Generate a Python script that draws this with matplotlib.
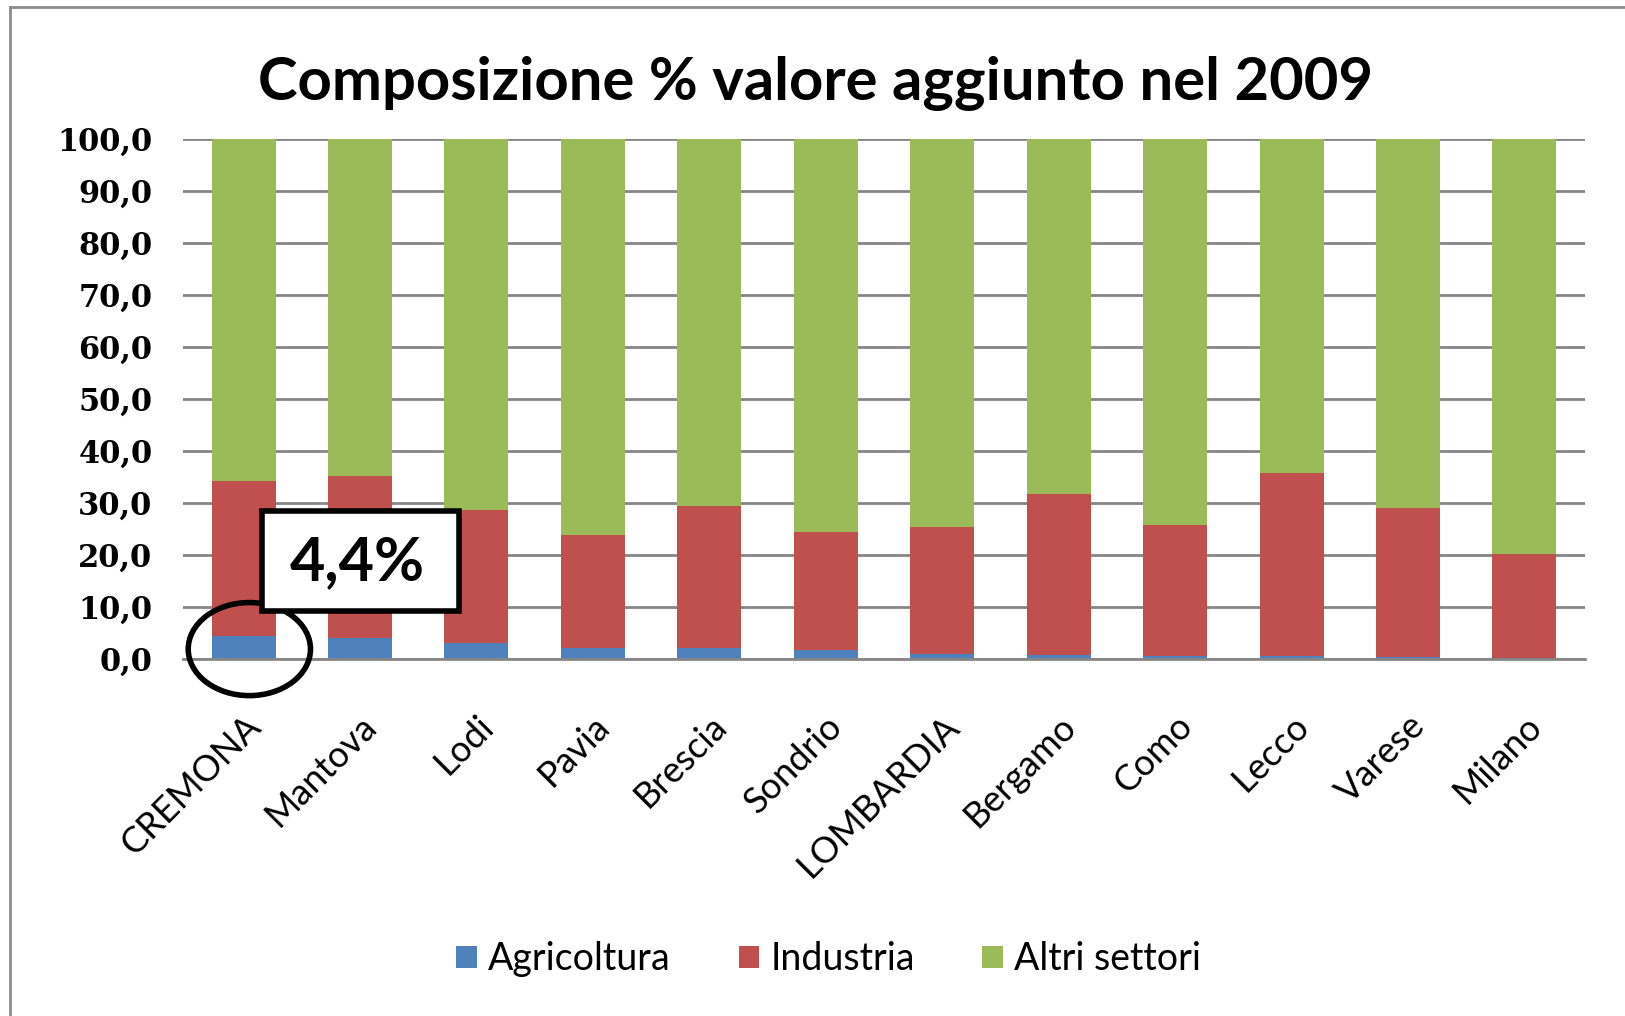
import numpy as np
import matplotlib
matplotlib.use('Agg')
import matplotlib.pyplot as plt
from matplotlib.patches import Ellipse, Rectangle

# data
categorie = ['CREMONA', 'Mantova', 'Lodi', 'Pavia', 'Brescia', 'Sondrio',
             'LOMBARDIA', 'Bergamo', 'Como', 'Lecco', 'Varese', 'Milano']
agricoltura = [4.4, 4.0, 3.1, 2.2, 2.2, 1.8, 1.0, 0.8, 0.6, 0.5, 0.4, 0.2]
industria_top = [34.2, 35.2, 28.6, 23.8, 29.5, 24.4, 25.3, 31.8, 25.8, 35.7, 29.0, 20.1]
industria = [t - a for t, a in zip(industria_top, agricoltura)]
altri = [100 - t for t in industria_top]
y_ticks = np.arange(0, 101, 10)

c_agr = '#4F81BD'
c_ind = '#C0504D'
c_alt = '#9BBB59'

fig = plt.figure(figsize=(16.25, 10.16), dpi=100)
ax = fig.add_axes([0.1126, 0.3514, 0.8628, 0.5118])

x = np.arange(len(categorie))
w = 0.55
ax.bar(x, agricoltura, w, color=c_agr, label='Agricoltura', zorder=2)
ax.bar(x, industria, w, bottom=agricoltura, color=c_ind, label='Industria', zorder=2)
ax.bar(x, altri, w, bottom=industria_top, color=c_alt, label='Altri settori', zorder=2)

ax.set_xlim(-0.52, len(categorie) - 0.48)
ax.set_ylim(0, 100)
ax.set_yticks(y_ticks)
ax.set_yticklabels([f'{v:.1f}'.replace('.', ',') for v in y_ticks],
                   fontfamily='DejaVu Serif', fontweight='bold', fontsize=22)
ax.yaxis.grid(True, color='#868686', linewidth=2, zorder=0)
ax.set_axisbelow(True)
for s in ['left', 'right', 'top']:
    ax.spines[s].set_visible(False)
ax.spines['bottom'].set_color('#868686')
ax.spines['bottom'].set_linewidth(2)
ax.tick_params(axis='y', length=0, pad=22)
ax.tick_params(axis='x', length=0, pad=36)

ax.set_xticks(x)
ax.set_xticklabels(categorie, rotation=45, ha='right', rotation_mode='anchor',
                   fontfamily='Lato', fontsize=26)

# callout
ax.add_patch(Ellipse((0.05, 1.9), 1.05, 17.9, fill=False, edgecolor='black',
                     linewidth=4, clip_on=False, zorder=5))
ax.add_patch(Rectangle((0.16, 9.2), 1.69, 19.2, facecolor='white',
                       edgecolor='black', linewidth=4, zorder=6))
ax.text(0.98, 18.6, '4,4%', ha='center', va='center', fontsize=44,
        fontweight='bold', fontfamily='Lato', zorder=7)

fig.suptitle('Composizione % valore aggiunto nel 2009', x=0.502, y=0.918,
             va='center', fontsize=43, fontweight='bold', fontfamily='Lato')

leg = fig.legend(loc='center', bbox_to_anchor=(0.51, 0.056), ncol=3, frameon=False,
                 prop={'family': 'Lato', 'size': 27}, handlelength=0.55,
                 handleheight=0.55, handletextpad=0.3, columnspacing=1.8)

# outer chart border (top and left visible)
fig.add_artist(plt.Line2D([0.006, 1.0], [0.993, 0.993], color='#8c8c8c', linewidth=2))
fig.add_artist(plt.Line2D([0.006, 0.006], [0.0, 0.993], color='#8c8c8c', linewidth=2))

fig.savefig('out.png', dpi=100)
